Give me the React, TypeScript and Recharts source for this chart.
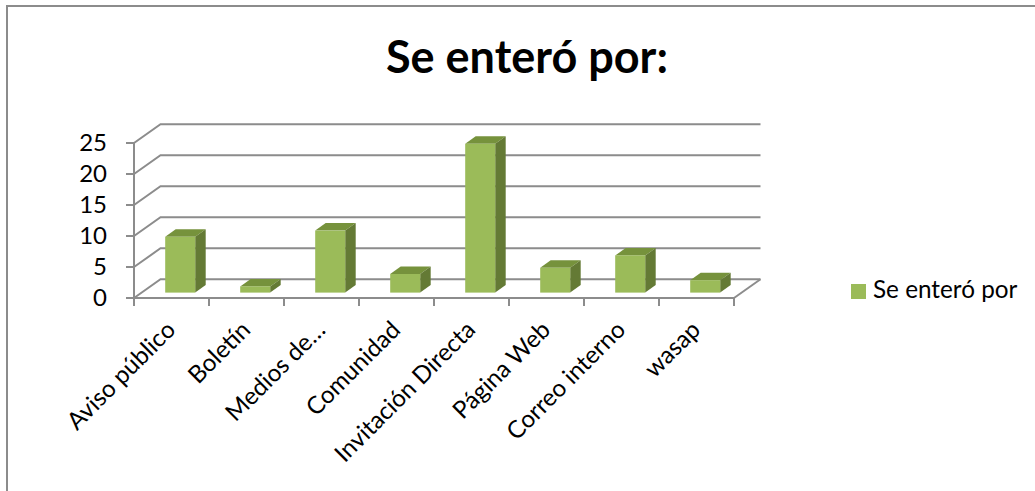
import React from "react";
import { ComposedChart, Bar, XAxis, YAxis, CartesianGrid, Legend } from "recharts";

const categories = ["Aviso público", "Boletín", "Medios de…", "Comunidad", "Invitación Directa", "Página Web", "Correo interno", "wasap"];
const values = [9, 1, 10, 3, 24, 4, 6, 2];
const yTicks = [0, 5, 10, 15, 20, 25];
const seriesName = "Se enteró por";
const titleText = "Se enteró por:";
const data = categories.map((name, i) => ({ name, value: values[i] }));

const FONT = "Lato, 'Open Sans', sans-serif";
const GRAY = "#8c8c8c";
const LINE = 2;
const WALL_DX = 26.5;
const WALL_DY = -18.7;
const BAR_DX = 8.2;
const BAR_DY = -5.4;
const DEPTH_X = 10.5;
const DEPTH_Y = -7.5;
const BAND = 75;

const Bar3D = (props: any) => {
  const { x, y, width, height } = props;
  const l = x + BAR_DX;
  const t = y + BAR_DY;
  const r = l + width;
  const b = t + height;
  return (
    <g>
      <polygon points={`${l},${t} ${r},${t} ${r + DEPTH_X},${t + DEPTH_Y} ${l + DEPTH_X},${t + DEPTH_Y}`} fill="#76923c" />
      <polygon points={`${r},${t} ${r + DEPTH_X},${t + DEPTH_Y} ${r + DEPTH_X},${b + DEPTH_Y} ${r},${b}`} fill="#647a35" />
      <rect x={l} y={t} width={width} height={height} fill="#9bbb59" />
    </g>
  );
};

const WallLine = (props: any) => {
  const { x1, y1, x2 } = props;
  const by = y1 + WALL_DY;
  const lx = x1 + WALL_DX;
  const rx = x2 + WALL_DX;
  return (
    <g fill="none" stroke={GRAY} strokeWidth={LINE}>
      <polyline points={`${x1},${y1} ${lx},${by} ${rx},${by}`} />
      {props.index === 0 ? <line x1={x2} y1={y1} x2={rx} y2={by} /> : null}
    </g>
  );
};

const XTick = (props: any) => {
  const { x, y, payload, index } = props;
  const tx = x + 1;
  const ty = y + 29;
  return (
    <g>
      <line x1={x - BAND / 2} y1={y} x2={x - BAND / 2} y2={y + 8} stroke={GRAY} strokeWidth={LINE} />
      {index === categories.length - 1 ? (
        <line x1={x + BAND / 2} y1={y} x2={x + BAND / 2} y2={y + 8} stroke={GRAY} strokeWidth={LINE} />
      ) : null}
      <text
        x={tx}
        y={ty}
        transform={`rotate(-45 ${tx} ${ty})`}
        textAnchor="end"
        dominantBaseline="middle"
        fontFamily={FONT}
        fontSize={24.2}
        fill="#000"
      >
        {payload.value}
      </text>
    </g>
  );
};

const YTick = (props: any) => {
  const { x, y, payload } = props;
  return (
    <text x={x} y={y + 2} textAnchor="end" dominantBaseline="middle" fontFamily={FONT} fontSize={24} fill="#000">
      {payload.value}
    </text>
  );
};

export default function App() {
  return (
    <div style={{ position: "absolute", left: 0, top: 0, width: 1035, height: 491, background: "#fff", overflow: "hidden" }}>
      <div style={{ position: "absolute", left: 6, top: 5, right: 0, bottom: 0, borderTop: `2px solid ${GRAY}`, borderLeft: `2px solid ${GRAY}`, boxSizing: "border-box" }} />
      <div style={{ position: "absolute", left: 0, top: 0 }}>
        <ComposedChart
          width={1035}
          height={491}
          data={data}
          margin={{ top: 143, right: 121, bottom: 13, left: 74 }}
          barCategoryGap={0}
        >
          <CartesianGrid vertical={false} horizontal={(p: any) => <WallLine {...p} key={p.index} />} />
          <XAxis
            dataKey="name"
            interval={0}
            height={180}
            axisLine={{ stroke: GRAY, strokeWidth: LINE }}
            tickLine={false}
            tick={<XTick />}
            tickSize={0}
            tickMargin={0}
          />
          <YAxis
            domain={[0, 25]}
            ticks={yTicks}
            interval={0}
            width={60}
            axisLine={{ stroke: GRAY, strokeWidth: LINE }}
            tickLine={{ stroke: GRAY, strokeWidth: LINE }}
            tickSize={8}
            tickMargin={19}
            tick={<YTick />}
          />
          <Bar dataKey="value" name={seriesName} fill="#9bbb59" barSize={30} shape={<Bar3D />} isAnimationActive={false} />
          <Legend
            layout="vertical"
            align="right"
            verticalAlign="middle"
            iconType="square"
            iconSize={15}
            wrapperStyle={{ position: "absolute", left: 851, top: 274, width: 180, fontFamily: FONT, fontSize: 24.3 }}
            formatter={(v: string) => <span style={{ color: "#000", marginLeft: 3 }}>{v}</span>}
          />
          <text x={527} y={73} textAnchor="middle" fontFamily={FONT} fontSize={45} fontWeight={700} fill="#000">
            {titleText}
          </text>
        </ComposedChart>
      </div>
    </div>
  );
}
